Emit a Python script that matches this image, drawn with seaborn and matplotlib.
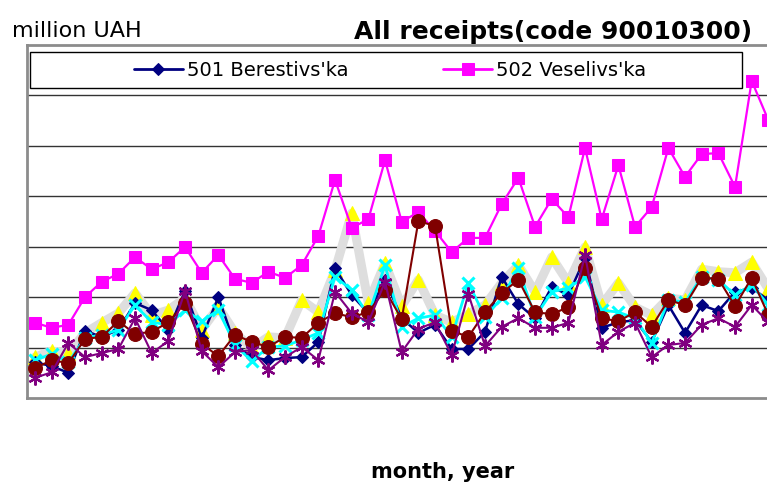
import matplotlib

matplotlib.use("Agg")
import matplotlib.pyplot as plt
from matplotlib.patches import Rectangle
import pandas as pd
import seaborn as sns

# monthly receipts, million UAH (45 months)
berestivska = [0.71, 0.63, 0.50, 1.33, 1.21, 1.35, 1.88, 1.74, 1.35, 2.12,
               1.19, 2.00, 1.05, 0.81, 0.75, 0.79, 0.81, 1.11, 2.57, 2.04,
               1.68, 2.34, 1.58, 1.29, 1.45, 0.97, 0.97, 1.31, 2.40, 1.86,
               1.58, 2.20, 2.04, 2.77, 1.39, 1.50, 1.54, 1.11, 1.84, 1.29,
               1.84, 1.72, 2.10, 2.18, 1.94]
veselivska = [1.49, 1.39, 1.45, 2.00, 2.30, 2.46, 2.79, 2.55, 2.69, 2.99,
              2.48, 2.83, 2.36, 2.28, 2.50, 2.38, 2.63, 3.21, 4.32, 3.37,
              3.54, 4.71, 3.49, 3.68, 3.31, 2.89, 3.17, 3.17, 3.84, 4.36,
              3.39, 3.94, 3.58, 4.95, 3.54, 4.61, 3.39, 3.78, 4.95, 4.38,
              4.83, 4.85, 4.18, 6.28, 5.50]
district_3 = [0.81, 0.93, 0.89, 1.29, 1.49, 1.68, 2.08, 1.64, 1.74, 1.98,
              1.35, 1.80, 1.29, 0.99, 1.21, 1.19, 1.94, 1.70, 2.53, 3.66,
              1.88, 2.67, 1.82, 2.34, 1.64, 1.50, 1.66, 1.84, 2.28, 2.63,
              2.10, 2.79, 2.28, 2.99, 1.84, 2.28, 1.80, 1.64, 1.98, 1.94,
              2.55, 2.50, 2.48, 2.69, 2.16]
district_4 = [0.75, 0.87, 0.71, 1.19, 1.25, 1.35, 1.84, 1.50, 1.45, 1.74,
              1.52, 1.74, 1.05, 0.73, 1.01, 1.03, 1.15, 1.29, 2.40, 2.14,
              1.64, 2.63, 1.41, 1.58, 1.64, 1.21, 2.28, 1.60, 1.98, 2.57,
              1.60, 2.10, 2.18, 2.40, 1.74, 1.70, 1.58, 1.09, 1.94, 1.90,
              2.40, 2.34, 2.04, 2.24, 1.84]
district_5 = [0.59, 0.75, 0.69, 1.17, 1.21, 1.52, 1.27, 1.31, 1.50, 1.88,
              1.07, 0.83, 1.25, 1.11, 1.01, 1.21, 1.19, 1.49, 1.68, 1.60,
              1.70, 2.14, 1.56, 3.50, 3.41, 1.33, 1.21, 1.70, 2.08, 2.34,
              1.70, 1.66, 1.80, 2.57, 1.58, 1.52, 1.70, 1.41, 1.94, 1.84,
              2.38, 2.36, 1.82, 2.38, 1.64]
district_6 = [0.40, 0.51, 1.09, 0.81, 0.89, 0.97, 1.58, 0.89, 1.13, 2.12,
              0.93, 0.61, 0.91, 0.95, 0.55, 0.81, 1.01, 0.75, 2.10, 1.68,
              1.50, 2.30, 0.91, 1.37, 1.50, 0.85, 2.06, 1.03, 1.41, 1.58,
              1.39, 1.39, 1.49, 2.83, 1.05, 1.31, 1.49, 0.81, 1.05, 1.09,
              1.45, 1.58, 1.41, 1.84, 1.50]
months = list(range(len(berestivska)))

legend_labels = ["501 Berestivs'ka", "502 Veselivs'ka"]

# drawing order follows the overlap seen in the chart
series = [
    ("_d3", district_3, dict(color="#dedede", linewidth=6.5, marker="^", markersize=10.5,
                            markerfacecolor="#ffff00", markeredgecolor="#ffff00")),
    (legend_labels[1], veselivska, dict(color="#ff00ff", linewidth=1.6, marker="s", markersize=9,
                                        markerfacecolor="#ff00ff", markeredgecolor="#ff00ff")),
    (legend_labels[0], berestivska, dict(color="#000080", linewidth=1.8, marker="D", markersize=6.5,
                                         markerfacecolor="#000080", markeredgecolor="#000080")),
    ("_d4", district_4, dict(color="#00ffff", linewidth=2.0, marker="x", markersize=8,
                            markerfacecolor="#00ffff", markeredgecolor="#00ffff", markeredgewidth=2.2)),
    ("_d5", district_5, dict(color="#800000", linewidth=1.5, marker="o", markersize=10,
                            markerfacecolor="#800000", markeredgecolor="#800000")),
    ("_d6", district_6, dict(color="#800080", linewidth=1.5, marker=(6, 2, 0), markersize=10,
                            markerfacecolor="#800080", markeredgecolor="#800080", markeredgewidth=1.6)),
]

sns.set_style("white")
plt.rcParams["font.family"] = ["DejaVu Sans"]
plt.rcParams["text.color"] = "black"

fig = plt.figure(figsize=(7.67, 4.82), dpi=100)
# plot area runs past the right edge of the picture, as in the original crop
ax = fig.add_axes([26.7 / 767, 84 / 482, 750 / 767, 353.5 / 482])

for z, (name, vals, style) in enumerate(series):
    df = pd.DataFrame({"month": months, "value": vals})
    sns.lineplot(data=df, x="month", y="value", ax=ax, label=name,
                 zorder=3 + z, clip_on=True, **style)

ax.set_xlim(-0.5, len(months) - 0.5)
ax.set_ylim(0, 7)
ax.set_xticks([])
ax.set_yticks(range(1, 7))
ax.tick_params(left=False, labelleft=False)
ax.yaxis.grid(True, color="#333333", linewidth=1.0)
ax.set_axisbelow(True)
ax.set_xlabel("")
ax.set_ylabel("")
for side in ["left", "bottom", "top"]:
    ax.spines[side].set_color("#8c8c8c")
    ax.spines[side].set_linewidth(2)
ax.spines["right"].set_visible(False)

if ax.get_legend() is not None:
    ax.get_legend().remove()

# legend box, wider than its entries
fig.patches.append(Rectangle((30 / 767, 1 - 88 / 482), 712 / 767, 36 / 482,
                             transform=fig.transFigure, facecolor="white",
                             edgecolor="black", linewidth=1.0, zorder=5))
handles, labels = ax.get_legend_handles_labels()
order = [labels.index(legend_labels[0]), labels.index(legend_labels[1])]
leg = fig.legend([handles[i] for i in order], [labels[i] for i in order],
                 loc="center", bbox_to_anchor=(390 / 767, 1 - 70 / 482), ncol=2,
                 frameon=False, fontsize=14, handlelength=2.5, handletextpad=0.2,
                 columnspacing=4.9, borderpad=0, labelcolor="black")
leg.set_zorder(6)
for h in leg.legend_handles:
    h.set_linewidth(2)

fig.text(12 / 767, 1 - 37 / 482, "million UAH", fontsize=16, color="black",
         ha="left", va="baseline")
fig.text(752 / 767, 1 - 39 / 482, "All receipts(code 90010300)", fontsize=18,
         fontweight="bold", color="black", ha="right", va="baseline")
fig.text(443 / 767, 1 - 478 / 482, "month, year", fontsize=15, fontweight="bold",
         color="black", ha="center", va="baseline")

fig.savefig("out.png", dpi=100, facecolor="white")
plt.close(fig)
